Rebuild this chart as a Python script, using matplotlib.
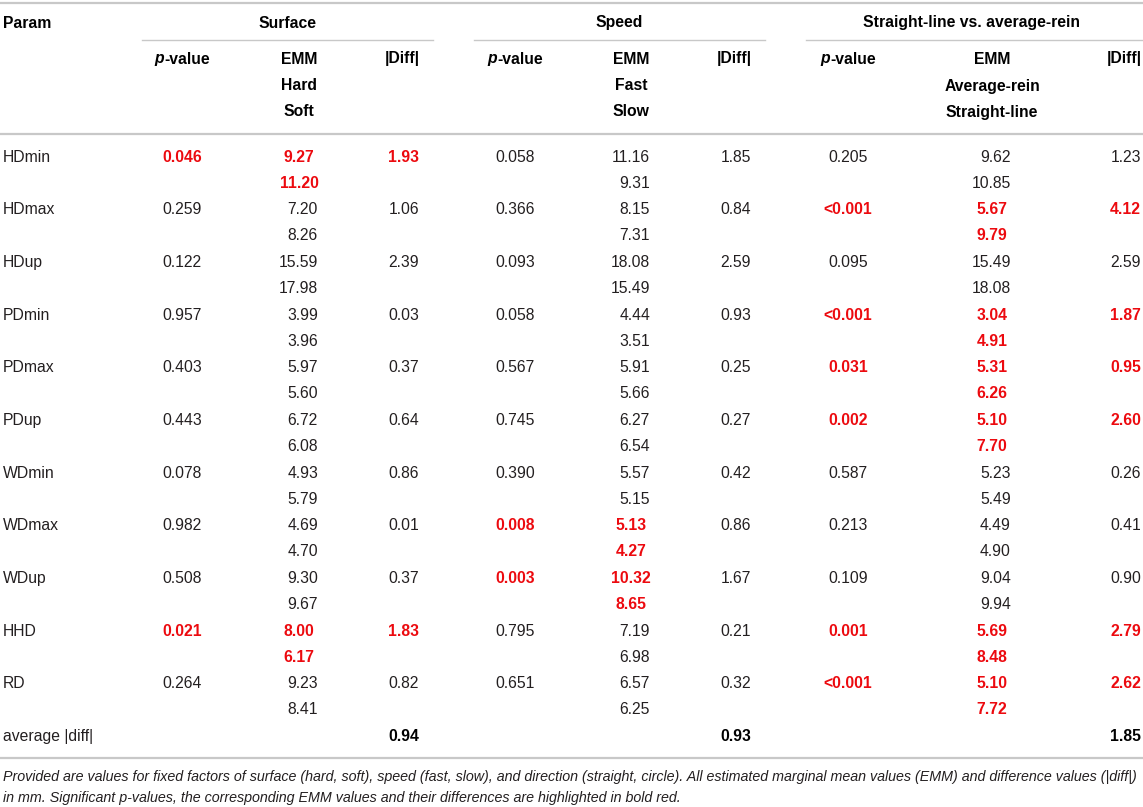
import matplotlib
matplotlib.use('Agg')
import matplotlib.pyplot as plt

plt.rcParams['font.family'] = ['Liberation Sans', 'DejaVu Sans']

# 表のデータ
params = ['HDmin', 'HDmax', 'HDup', 'PDmin', 'PDmax', 'PDup',
          'WDmin', 'WDmax', 'WDup', 'HHD', 'RD']

surface_p = ['0.046', '0.259', '0.122', '0.957', '0.403', '0.443',
             '0.078', '0.982', '0.508', '0.021', '0.264']
surface_hard = [9.27, 7.20, 15.59, 3.99, 5.97, 6.72, 4.93, 4.69, 9.30, 8.00, 9.23]
surface_soft = [11.20, 8.26, 17.98, 3.96, 5.60, 6.08, 5.79, 4.70, 9.67, 6.17, 8.41]
surface_diff = [1.93, 1.06, 2.39, 0.03, 0.37, 0.64, 0.86, 0.01, 0.37, 1.83, 0.82]
surface_sig = [True, False, False, False, False, False, False, False, False, True, False]
surface_diff_sig = surface_sig

speed_p = ['0.058', '0.366', '0.093', '0.058', '0.567', '0.745',
           '0.390', '0.008', '0.003', '0.795', '0.651']
speed_fast = [11.16, 8.15, 18.08, 4.44, 5.91, 6.27, 5.57, 5.13, 10.32, 7.19, 6.57]
speed_slow = [9.31, 7.31, 15.49, 3.51, 5.66, 6.54, 5.15, 4.27, 8.65, 6.98, 6.25]
speed_diff = [1.85, 0.84, 2.59, 0.93, 0.25, 0.27, 0.42, 0.86, 1.67, 0.21, 0.32]
speed_sig = [False, False, False, False, False, False, False, True, True, False, False]
speed_diff_sig = [False] * 11

line_p = ['0.205', '<0.001', '0.095', '<0.001', '0.031', '0.002',
          '0.587', '0.213', '0.109', '0.001', '<0.001']
line_avg = [9.62, 5.67, 15.49, 3.04, 5.31, 5.10, 5.23, 4.49, 9.04, 5.69, 5.10]
line_straight = [10.85, 9.79, 18.08, 4.91, 6.26, 7.70, 5.49, 4.90, 9.94, 8.48, 7.72]
line_diff = [1.23, 4.12, 2.59, 1.87, 0.95, 2.60, 0.26, 0.41, 0.90, 2.79, 2.62]
line_sig = [False, True, False, True, True, True, False, False, False, True, True]
line_diff_sig = line_sig

avg_diff = [0.94, 0.93, 1.85]

groups = ['Surface', 'Speed', 'Straight-line vs. average-rein']
emm_labels = [['Hard', 'Soft'], ['Fast', 'Slow'], ['Average-rein', 'Straight-line']]

footnote = ('Provided are values for fixed factors of surface (hard, soft), speed (fast, slow), '
            'and direction (straight, circle). All estimated marginal mean values (EMM) and '
            'difference values (|diff|)\n'
            'in mm. Significant p-values, the corresponding EMM values and their differences '
            'are highlighted in bold red.')

RED = '#ec0a0f'
TXT = '#231f20'
LINE = '#c8c8c8'
FS = 11.3

fig = plt.figure(figsize=(11.43, 8.07), dpi=100)
ax = fig.add_axes([0, 0, 1, 1])
ax.set_xlim(0, 1143)
ax.set_ylim(807, 0)
ax.axis('off')

# 列の位置 (p中心, EMM中心, Diff右端)
cols = [(182, 299, 419), (515, 631, 751), (848, 992, 1141)]
group_span = [(142, 433), (474, 765), (806, 1143)]

# 罫線
ax.plot([0, 1143], [3, 3], color=LINE, lw=1.6)
ax.plot([0, 1143], [134, 134], color=LINE, lw=1.6)
ax.plot([0, 1143], [758, 758], color=LINE, lw=1.6)
for (x0, x1) in group_span:
    ax.plot([x0, x1], [39.5, 39.5], color=LINE, lw=1.0)

# ヘッダー
ax.text(3, 23, 'Param', fontsize=FS, fontweight='bold', va='center', ha='left', color='k')
renderer = fig.canvas.get_renderer()
for g, (x0, x1), (xp, xe, xd), lab in zip(groups, group_span, cols, emm_labels):
    ax.text((x0 + x1) / 2 + (0 if x1 < 1143 else -3), 23, g, fontsize=FS,
            fontweight='bold', ha='center', va='center', color='k')
    # "p-value" (pだけ斜体) を中央に置く
    tp = ax.text(xp, 59, 'p', fontsize=FS, fontweight='bold', style='italic',
                 ha='left', va='center', color='k')
    tv = ax.text(xp, 59, '-value', fontsize=FS, fontweight='bold',
                 ha='left', va='center', color='k')
    wp = tp.get_window_extent(renderer).width
    wv = tv.get_window_extent(renderer).width
    start = xp - (wp + wv) / 2
    tp.set_x(start)
    tv.set_x(start + wp)
    ax.text(xe, 59, 'EMM', fontsize=FS, fontweight='bold', ha='center', va='center', color='k')
    ax.text(xe, 86, lab[0], fontsize=FS, fontweight='bold', ha='center', va='center', color='k')
    ax.text(xe, 112, lab[1], fontsize=FS, fontweight='bold', ha='center', va='center', color='k')
    ax.text(xd + 1, 59, '|Diff|', fontsize=FS, fontweight='bold', ha='right', va='center', color='k')


def cell(x, y, s, bold, ha):
    ax.text(x, y, s, fontsize=FS, ha=ha, va='center',
            fontweight='bold' if bold else 'normal', color=RED if bold else TXT)


blocks = [
    (surface_p, surface_hard, surface_soft, surface_diff, surface_sig, surface_diff_sig),
    (speed_p, speed_fast, speed_slow, speed_diff, speed_sig, speed_diff_sig),
    (line_p, line_avg, line_straight, line_diff, line_sig, line_diff_sig),
]

row_h = 52.7
for i, name in enumerate(params):
    y = 157 + row_h * i
    ax.text(3, y, name, fontsize=FS, ha='left', va='center', color=TXT)
    for (pv, e1, e2, df, sig, dsig), (xp, xe, xd) in zip(blocks, cols):
        cell(xp, y, pv[i], sig[i], 'center')
        if sig[i]:
            cell(xe, y, f'{e1[i]:.2f}', True, 'center')
            cell(xe, y + 26, f'{e2[i]:.2f}', True, 'center')
        else:
            cell(xe + 19, y, f'{e1[i]:.2f}', False, 'right')
            cell(xe + 19, y + 26, f'{e2[i]:.2f}', False, 'right')
        cell(xd, y, f'{df[i]:.2f}', dsig[i], 'right')

# average |diff|
y_avg = 157 + row_h * len(params)
ax.text(3, y_avg, 'average |diff|', fontsize=FS, ha='left', va='center', color=TXT)
for v, (xp, xe, xd) in zip(avg_diff, cols):
    ax.text(xd, y_avg, f'{v:.2f}', fontsize=FS, fontweight='bold', ha='right',
            va='center', color='k')

# 注釈
ax.text(3, 770, footnote, fontsize=10.3, style='italic', ha='left', va='top',
        color=TXT, linespacing=1.6)

plt.savefig('out.png', dpi=100)
